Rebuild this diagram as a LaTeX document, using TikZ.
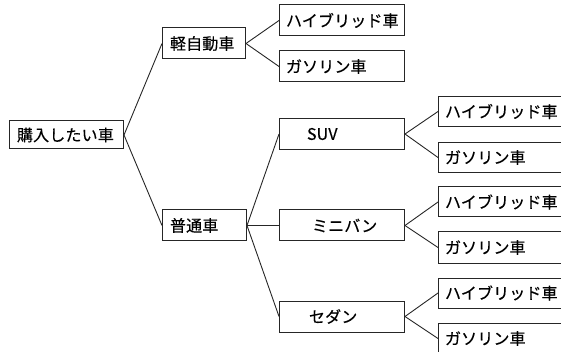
\documentclass[tikz,border=0pt]{standalone}
\usepackage{fontspec}
\setmainfont{Noto Sans CJK JP}[FakeBold=0.35, LetterSpace=1]
\tikzset{
  box/.style={draw=black!85, line width=1pt, fill=white, inner xsep=6.5pt, inner ysep=0pt,
    minimum height=30pt, align=left, anchor=west, font=\fontsize{16}{18}\selectfont},
  wide/.style={box, text width=112pt},
  conn/.style={draw=black!85, line width=0.9pt}
}
\begin{document}
\begin{tikzpicture}[x=1pt, y=-1pt]
\useasboundingbox (0,0) rectangle (561,352);
\clip (0,0) rectangle (561,352);
% root
\node[box, text width=101pt, minimum height=28pt, inner xsep=6.5pt] (root) at (9,135) {\hspace*{1pt}購入したい車};
% level 1
\node[box, text width=70pt, minimum height=31pt] (kei) at (162,43.5) {\hspace*{1pt}軽自動車};
\node[box, text width=71pt, minimum height=31pt] (futsu) at (162,225.5) {\hspace*{1pt}普通車};
% level 2
\node[wide, minimum height=31pt] (kh) at (279,20.5) {ハイブリッド車};
\node[wide, minimum height=31pt] (kg) at (279,66.5) {ガソリン車};
\node[wide, minimum height=31pt] (suv) at (279,134) {\hspace*{21pt}SUV};
\node[wide, minimum height=31pt] (mini) at (279,225.5) {\hspace*{26pt}ミニバン};
\node[wide, minimum height=31pt] (sedan) at (279,316.5) {\hspace*{23pt}セダン};
% level 3
\node[wide] (suvh) at (438,111.5) {ハイブリッド車};
\node[wide] (suvg) at (438,157.5) {ガソリン車};
\node[wide] (minih) at (438,202) {ハイブリッド車};
\node[wide, minimum height=31pt] (minig) at (438,247.5) {ガソリン車};
\node[wide] (sedanh) at (438,293) {ハイブリッド車};
\node[wide, minimum height=31pt] (sedang) at (438,338.5) {ガソリン車};
% connectors
\draw[conn] (root.east) -- (kei.west);
\draw[conn] (root.east) -- (futsu.west);
\draw[conn] (kei.east) -- (kh.west);
\draw[conn] (kei.east) -- (kg.west);
\draw[conn] (futsu.east) -- (suv.west);
\draw[conn] (futsu.east) -- (mini.west);
\draw[conn] (futsu.east) -- (sedan.west);
\draw[conn] (suv.east) -- (suvh.west);
\draw[conn] (suv.east) -- (suvg.west);
\draw[conn] (mini.east) -- (minih.west);
\draw[conn] (mini.east) -- (minig.west);
\draw[conn] (sedan.east) -- (sedanh.west);
\draw[conn] (sedan.east) -- (sedang.west);
\end{tikzpicture}
\end{document}
